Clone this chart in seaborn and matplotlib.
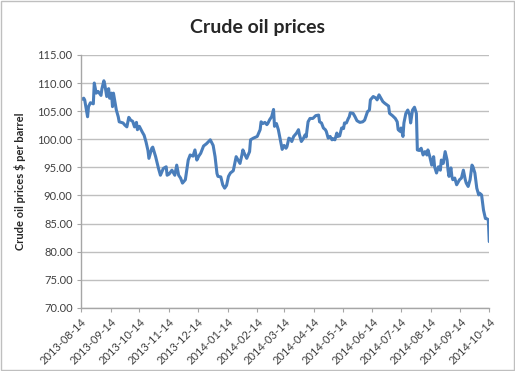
import pandas as pd
import seaborn as sns
import matplotlib.pyplot as plt
from matplotlib.patches import Rectangle

# Data: days after 2013-08-14 and price in $ per barrel
start = '2013-08-14'
day_offsets = [0, 3, 4, 7, 8, 10, 13, 14, 16, 18, 21, 22, 24, 25, 27, 29, 30, 32, 33, 34,
               37, 39, 40, 44, 46, 48, 50, 52, 54, 56, 58, 59, 61, 64, 66, 68, 70, 71, 74, 75,
               78, 81, 83, 86, 89, 90, 92, 95, 98, 100, 102, 104, 106, 109, 112, 114, 117, 119,
               121, 123, 125, 128, 131, 135, 138, 140, 142, 143, 146, 148, 150, 152, 154, 156,
               159, 162, 164, 166, 168, 169, 171, 173, 176, 177, 180, 184, 187, 188, 190, 192,
               194, 195, 197, 199, 201, 202, 204, 206, 208, 210, 212, 214, 215, 217, 219, 220,
               222, 225, 227, 228, 230, 232, 234, 235, 237, 239, 242, 245, 248, 249, 251, 253,
               255, 256, 258, 260, 262, 263, 265, 267, 268, 270, 272, 274, 275, 277, 279, 280,
               281, 284, 286, 288, 291, 294, 296, 299, 301, 302, 305, 308, 309, 311, 313, 315,
               317, 321, 322, 325, 328, 330, 331, 333, 334, 336, 337, 339, 341, 343, 344, 346,
               348, 350, 351, 353, 355, 357, 359, 361, 362, 364, 366, 368, 369, 371, 373, 375,
               376, 378, 380, 382, 383, 384, 386, 387, 388, 390, 392, 394, 395, 397, 399, 401,
               402, 404, 406, 408, 409, 411, 413, 415, 416, 418, 420, 422, 423, 425, 426]
prices = [107.0, 107.3, 107.0, 104.0, 105.8, 106.5, 106.3, 110.0, 108.2, 108.5, 107.8, 109.0,
          110.4, 109.7, 107.6, 109.0, 107.3, 108.2, 105.8, 108.2, 105.2, 104.0, 103.1, 102.9,
          102.5, 102.2, 103.9, 103.4, 103.2, 102.2, 103.0, 101.7, 102.3, 101.3, 100.7, 99.5,
          98.0, 96.6, 98.4, 98.6, 96.9, 94.8, 93.6, 94.8, 95.1, 93.6, 93.8, 94.5, 93.6, 95.4,
          93.6, 93.1, 92.2, 92.8, 96.3, 97.2, 97.0, 98.1, 96.3, 97.0, 97.5, 98.8, 99.2, 99.9,
          98.9, 96.9, 93.9, 93.4, 93.3, 91.9, 91.3, 91.8, 93.4, 94.0, 94.4, 96.9, 96.3, 95.7,
          97.2, 98.1, 97.3, 96.6, 97.8, 99.9, 100.2, 100.5, 101.7, 103.1, 102.8, 103.0, 102.6,
          102.8, 103.5, 104.0, 105.3, 102.3, 102.8, 101.7, 99.9, 98.2, 98.9, 98.4, 98.7, 100.2,
          100.0, 99.6, 100.5, 101.1, 101.7, 100.8, 99.6, 100.1, 100.8, 100.4, 103.1, 103.7,
          103.7, 104.2, 104.3, 103.1, 102.9, 102.0, 101.7, 101.4, 100.2, 100.5, 99.9, 100.1,
          99.9, 101.1, 100.5, 100.6, 102.0, 101.9, 102.9, 102.9, 103.7, 104.0, 104.7, 104.6,
          104.0, 103.3, 103.0, 103.1, 103.4, 104.9, 105.2, 107.0, 107.6, 107.3, 107.0, 107.9,
          107.3, 106.7, 106.4, 105.9, 104.6, 104.2, 103.7, 103.1, 101.7, 101.4, 102.0, 100.5,
          102.9, 104.6, 105.2, 104.3, 102.9, 105.2, 105.7, 104.6, 98.1, 98.0, 98.4, 97.2,
          97.8, 97.2, 98.1, 96.9, 95.4, 96.9, 95.1, 94.0, 95.1, 94.5, 96.3, 95.7, 97.8, 96.3,
          94.5, 93.4, 94.9, 93.4, 92.8, 93.1, 91.9, 92.5, 92.8, 93.1, 94.5, 92.8, 92.2, 91.6,
          92.8, 95.4, 95.1, 94.0, 91.3, 90.1, 90.4, 90.1, 87.4, 85.9, 85.9, 85.7, 81.8]
tick_labels = ['2013-08-14', '2013-09-14', '2013-10-14', '2013-11-14', '2013-12-14',
               '2014-01-14', '2014-02-14', '2014-03-14', '2014-04-14', '2014-05-14',
               '2014-06-14', '2014-07-14', '2014-08-14', '2014-09-14', '2014-10-14']

df = pd.DataFrame({'date': pd.to_datetime(start) + pd.to_timedelta(day_offsets, unit='D'),
                   'price': prices})

sns.set_style('white')
plt.rcParams['font.family'] = ['Lato', 'DejaVu Sans']

fig = plt.figure(figsize=(5.15, 3.71), dpi=100)
ax = fig.add_axes([0.157, 0.170, 0.793, 0.682])

sns.lineplot(data=df, x='date', y='price', ax=ax, color='#4A7EBB', linewidth=2.2)

ticks = pd.to_datetime(tick_labels)
ax.set_xlim(ticks[0], ticks[-1])
ax.set_xticks(ticks)
ax.set_xticklabels(tick_labels, rotation=45, ha='right', rotation_mode='anchor',
                   fontsize=8, color='#404040')
ax.set_ylim(70, 115)
ax.set_yticks(range(70, 116, 5))
ax.set_yticklabels([f'{v:.2f}' for v in range(70, 116, 5)], fontsize=8, color='#404040')

ax.grid(axis='y', color='#BFBFBF', linewidth=1)
ax.set_axisbelow(True)
for side in ['top', 'right']:
    ax.spines[side].set_visible(False)
for side in ['left', 'bottom']:
    ax.spines[side].set_color('#A6A6A6')
    ax.spines[side].set_linewidth(1)
ax.tick_params(axis='both', which='major', length=3, color='#A6A6A6', direction='out',
               bottom=True, left=True, pad=3)

ax.set_xlabel('')
ax.set_ylabel('Crude oil prices $ per barrel', fontsize=8, fontweight='bold', labelpad=8)
fig.text(0.5, 0.927, 'Crude oil prices', ha='center', va='center', fontsize=14,
         fontweight='bold')

# chart area border
fig.patches.append(Rectangle((0.002, 0.003), 0.996, 0.994, transform=fig.transFigure,
                             fill=False, edgecolor='#BFBFBF', linewidth=1))

fig.savefig('out.png', dpi=100)
